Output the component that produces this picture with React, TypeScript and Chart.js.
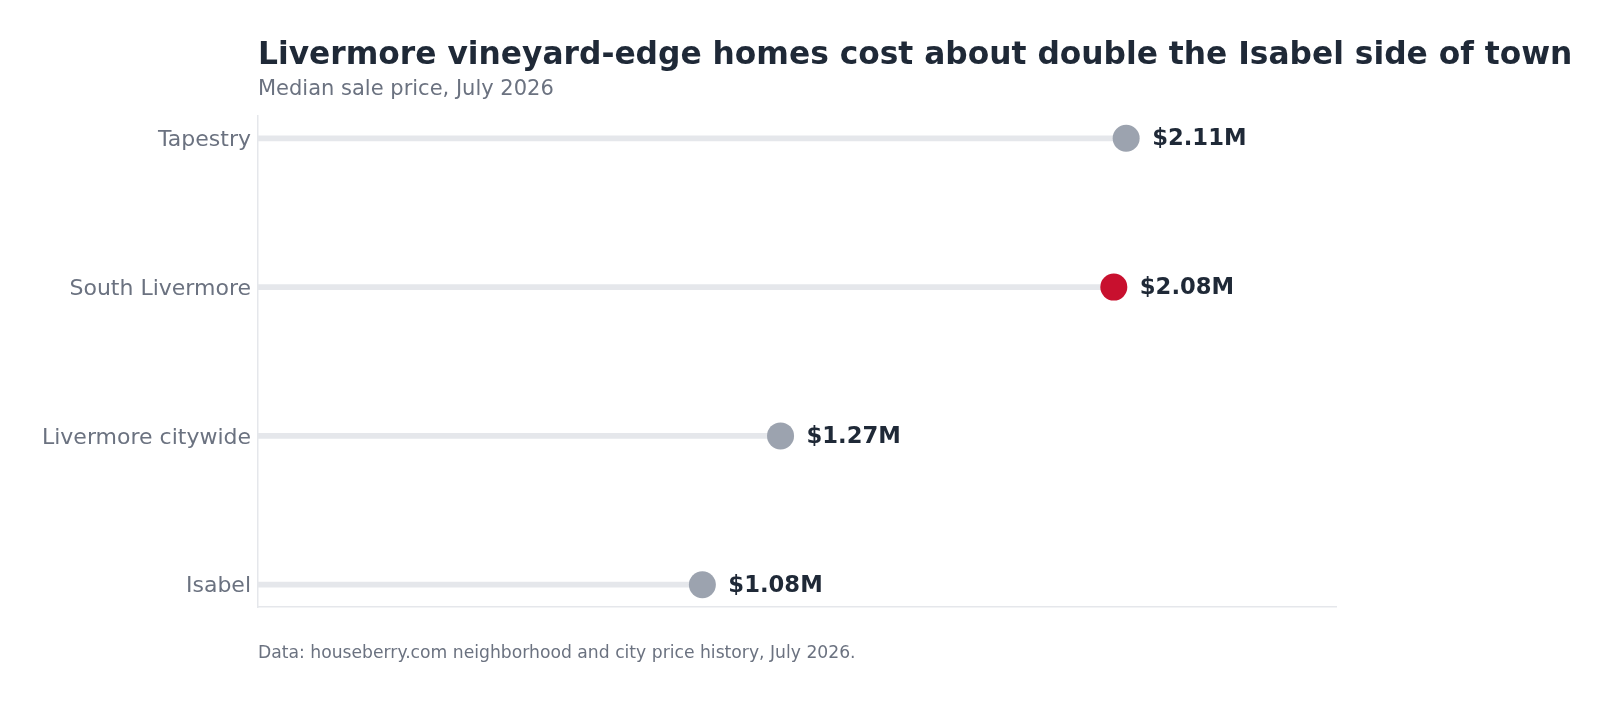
import { useEffect, useRef } from "react";
import { Chart, registerables } from "chart.js";

Chart.register(...registerables);

const categories = ["Tapestry", "South Livermore", "Livermore citywide", "Isabel"];
const prices = [2.11, 2.08, 1.27, 1.08];
const highlight = "South Livermore";

const FONT = "'DejaVu Sans', sans-serif";

const textPlugin = {
  id: "texts",
  afterDraw(chart: any) {
    const { ctx, chartArea, scales } = chart;
    ctx.save();
    ctx.textAlign = "left";
    ctx.textBaseline = "alphabetic";
    ctx.fillStyle = "#1f2937";
    ctx.font = `bold 31.3px ${FONT}`;
    ctx.fillText("Livermore vineyard-edge homes cost about double the Isabel side of town", chartArea.left, 64);
    ctx.fillStyle = "#6b7280";
    ctx.font = `21px ${FONT}`;
    ctx.fillText("Median sale price, July 2026", chartArea.left, 95);
    ctx.font = `17.2px ${FONT}`;
    ctx.fillText("Data: houseberry.com neighborhood and city price history, July 2026.", chartArea.left, 658);

    // value labels
    ctx.fillStyle = "#1f2937";
    ctx.font = `bold 22.7px ${FONT}`;
    ctx.textBaseline = "middle";
    prices.forEach((v, i) => {
      const x = scales.x.getPixelForValue(v);
      const y = scales.y.getPixelForValue(i);
      ctx.fillText(`$${v.toFixed(2)}M`, x + 26, y + 1);
    });
    ctx.restore();
  },
};

export default function App() {
  const canvasRef = useRef<HTMLCanvasElement | null>(null);
  const chartRef = useRef<Chart | null>(null);

  useEffect(() => {
    document.body.style.margin = "0";
    if (!canvasRef.current) return;
    const ctx = canvasRef.current.getContext("2d");
    if (!ctx) return;
    chartRef.current?.destroy();

    const points = prices.map((v, i) => ({ x: v, y: i }));

    chartRef.current = new Chart(ctx, {
      type: "bar",
      data: {
        datasets: [
          {
            type: "bar",
            data: points,
            backgroundColor: "#e5e7eb",
            barThickness: 5,
            borderWidth: 0,
            order: 2,
          } as any,
          {
            type: "scatter",
            data: points,
            pointRadius: 13.5,
            pointHoverRadius: 13.5,
            borderWidth: 0,
            backgroundColor: categories.map((c) => (c === highlight ? "#c8102e" : "#9ca3af")),
            order: 1,
          } as any,
        ],
      },
      options: {
        indexAxis: "y",
        responsive: true,
        maintainAspectRatio: false,
        animation: false,
        layout: { padding: { left: 0, top: 116, right: 276, bottom: 95 } },
        plugins: {
          legend: { display: false },
          tooltip: { enabled: false },
        },
        scales: {
          x: {
            type: "linear",
            min: 0,
            max: 2.62,
            grid: { display: false, drawTicks: false },
            border: { display: true, color: "#e5e7eb", width: 1.5 },
            ticks: { display: false },
            afterFit: (s: any) => {
              s.height = 0;
            },
          },
          y: {
            type: "linear",
            min: -0.15,
            max: 3.15,
            reverse: true,
            offset: false,
            grid: { display: false, drawTicks: false },
            border: { display: true, color: "#e5e7eb", width: 1.5 },
            afterBuildTicks: (s: any) => {
              s.ticks = categories.map((_, i) => ({ value: i }));
            },
            ticks: {
              color: "#6b7280",
              font: { family: FONT, size: 22 },
              padding: 7,
              labelOffset: 2,
              callback: (v: any) => categories[v] ?? "",
            },
            afterFit: (s: any) => {
              s.width = 258;
            },
          },
        },
      },
      plugins: [textPlugin],
    });

    return () => {
      chartRef.current?.destroy();
      chartRef.current = null;
    };
  }, []);

  return (
    <div style={{ width: 1612, height: 702, position: "relative" }}>
      <canvas ref={canvasRef}></canvas>
    </div>
  );
}
